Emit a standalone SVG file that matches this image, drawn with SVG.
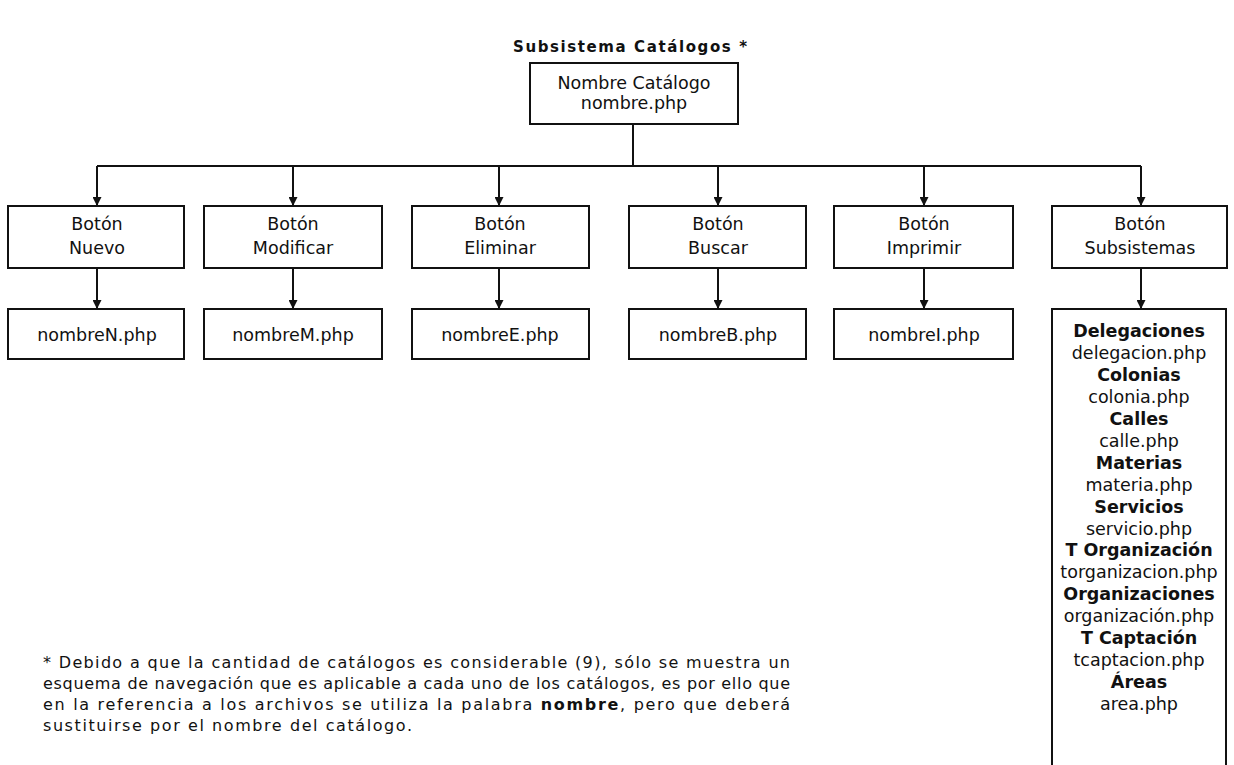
<svg xmlns="http://www.w3.org/2000/svg" width="1234" height="765" viewBox="0 0 1234 765">
  <style>
    .box { fill: #fff; stroke: #111; stroke-width: 2; }
    .t { font-family: "DejaVu Sans", "Liberation Sans", sans-serif; font-size: 17.5px; fill: #111; text-anchor: middle; }
    .b { font-weight: bold; }
    .title { font-family: "DejaVu Sans", "Liberation Sans", sans-serif; font-size: 15px; font-weight: bold; fill: #111; text-anchor: middle; }
    .note { font-family: "DejaVu Sans", "Liberation Sans", sans-serif; font-size: 16px; fill: #111; }
    .wire { fill: none; stroke: #111; stroke-width: 2; }
  </style>
  <defs>
    <marker id="arrow" viewBox="0 0 10 10" refX="10" refY="5" markerWidth="9" markerHeight="9" markerUnits="userSpaceOnUse" orient="auto">
      <path d="M0,0 L10,5 L0,10 z" fill="#111"/>
    </marker>
  </defs>
  <rect width="1234" height="765" fill="#fff"/>

  <text x="630" y="52" class="title" textLength="234" lengthAdjust="spacing">Subsistema Catálogos *</text>

  <g id="connectors">
    <path class="wire" d="M633,124 V166 M97,166 H1141"/>
    <path class="wire" marker-end="url(#arrow)" d="M97,166 V206"/>
    <path class="wire" marker-end="url(#arrow)" d="M293,166 V206"/>
    <path class="wire" marker-end="url(#arrow)" d="M499,166 V206"/>
    <path class="wire" marker-end="url(#arrow)" d="M718,166 V206"/>
    <path class="wire" marker-end="url(#arrow)" d="M924,166 V206"/>
    <path class="wire" marker-end="url(#arrow)" d="M1141,166 V206"/>
    <path class="wire" marker-end="url(#arrow)" d="M97,268 V309"/>
    <path class="wire" marker-end="url(#arrow)" d="M293,268 V309"/>
    <path class="wire" marker-end="url(#arrow)" d="M499,268 V309"/>
    <path class="wire" marker-end="url(#arrow)" d="M718,268 V309"/>
    <path class="wire" marker-end="url(#arrow)" d="M924,268 V309"/>
    <path class="wire" marker-end="url(#arrow)" d="M1141,268 V309"/>
  </g>

  <g id="catalogo">
    <rect class="box" x="530" y="63" width="208" height="61"/>
    <text class="t" x="634" y="89">Nombre Catálogo</text>
    <text class="t" x="634" y="109">nombre.php</text>
  </g>

  <g id="btn-nuevo">
    <rect class="box" x="8" y="206" width="176" height="62"/>
    <text class="t" x="97" y="230">Botón</text>
    <text class="t" x="97" y="254">Nuevo</text>
  </g>
  <g id="btn-modificar">
    <rect class="box" x="204" y="206" width="178" height="62"/>
    <text class="t" x="293" y="230">Botón</text>
    <text class="t" x="293" y="254">Modificar</text>
  </g>
  <g id="btn-eliminar">
    <rect class="box" x="412" y="206" width="177" height="62"/>
    <text class="t" x="500" y="230">Botón</text>
    <text class="t" x="500" y="254">Eliminar</text>
  </g>
  <g id="btn-buscar">
    <rect class="box" x="629" y="206" width="177" height="62"/>
    <text class="t" x="718" y="230">Botón</text>
    <text class="t" x="718" y="254">Buscar</text>
  </g>
  <g id="btn-imprimir">
    <rect class="box" x="834" y="206" width="179" height="62"/>
    <text class="t" x="924" y="230">Botón</text>
    <text class="t" x="924" y="254">Imprimir</text>
  </g>
  <g id="btn-subsistemas">
    <rect class="box" x="1052" y="206" width="175" height="62"/>
    <text class="t" x="1140" y="230">Botón</text>
    <text class="t" x="1140" y="254">Subsistemas</text>
  </g>

  <g id="page-nuevo">
    <rect class="box" x="8" y="309" width="176" height="50"/>
    <text class="t" x="97" y="341">nombreN.php</text>
  </g>
  <g id="page-modificar">
    <rect class="box" x="204" y="309" width="178" height="50"/>
    <text class="t" x="293" y="341">nombreM.php</text>
  </g>
  <g id="page-eliminar">
    <rect class="box" x="412" y="309" width="177" height="50"/>
    <text class="t" x="500" y="341">nombreE.php</text>
  </g>
  <g id="page-buscar">
    <rect class="box" x="629" y="309" width="177" height="50"/>
    <text class="t" x="718" y="341">nombreB.php</text>
  </g>
  <g id="page-imprimir">
    <rect class="box" x="834" y="309" width="179" height="50"/>
    <text class="t" x="924" y="341">nombreI.php</text>
  </g>

  <g id="subsistemas">
    <path class="wire" d="M1052,770 V309 H1226 V770"/>
    <g class="t">
      <text x="1139" y="337" class="b">Delegaciones</text>
      <text x="1139" y="358.9">delegacion.php</text>
      <text x="1139" y="380.9" class="b">Colonias</text>
      <text x="1139" y="402.8">colonia.php</text>
      <text x="1139" y="424.8" class="b">Calles</text>
      <text x="1139" y="446.7">calle.php</text>
      <text x="1139" y="468.6" class="b">Materias</text>
      <text x="1139" y="490.6">materia.php</text>
      <text x="1139" y="512.5" class="b">Servicios</text>
      <text x="1139" y="534.5">servicio.php</text>
      <text x="1139" y="556.4" class="b">T Organización</text>
      <text x="1139" y="578.3">torganizacion.php</text>
      <text x="1139" y="600.3" class="b">Organizaciones</text>
      <text x="1139" y="622.2">organización.php</text>
      <text x="1139" y="644.2" class="b">T Captación</text>
      <text x="1139" y="666.1">tcaptacion.php</text>
      <text x="1139" y="688" class="b">Áreas</text>
      <text x="1139" y="710">area.php</text>
    </g>
  </g>

  <g id="nota">
    <text class="note" x="43" y="668" textLength="747" lengthAdjust="spacing">* Debido a que la cantidad de catálogos es considerable (9), sólo se muestra un</text>
    <text class="note" x="43" y="689" textLength="747" lengthAdjust="spacing">esquema de navegación que es aplicable a cada uno de los catálogos, es por ello que</text>
    <text class="note" x="43" y="710" textLength="747" lengthAdjust="spacing">en la referencia a los archivos se utiliza la palabra <tspan font-weight="bold">nombre</tspan>, pero que deberá</text>
    <text class="note" x="43" y="731" textLength="369" lengthAdjust="spacing">sustituirse por el nombre del catálogo.</text>
  </g>
</svg>
